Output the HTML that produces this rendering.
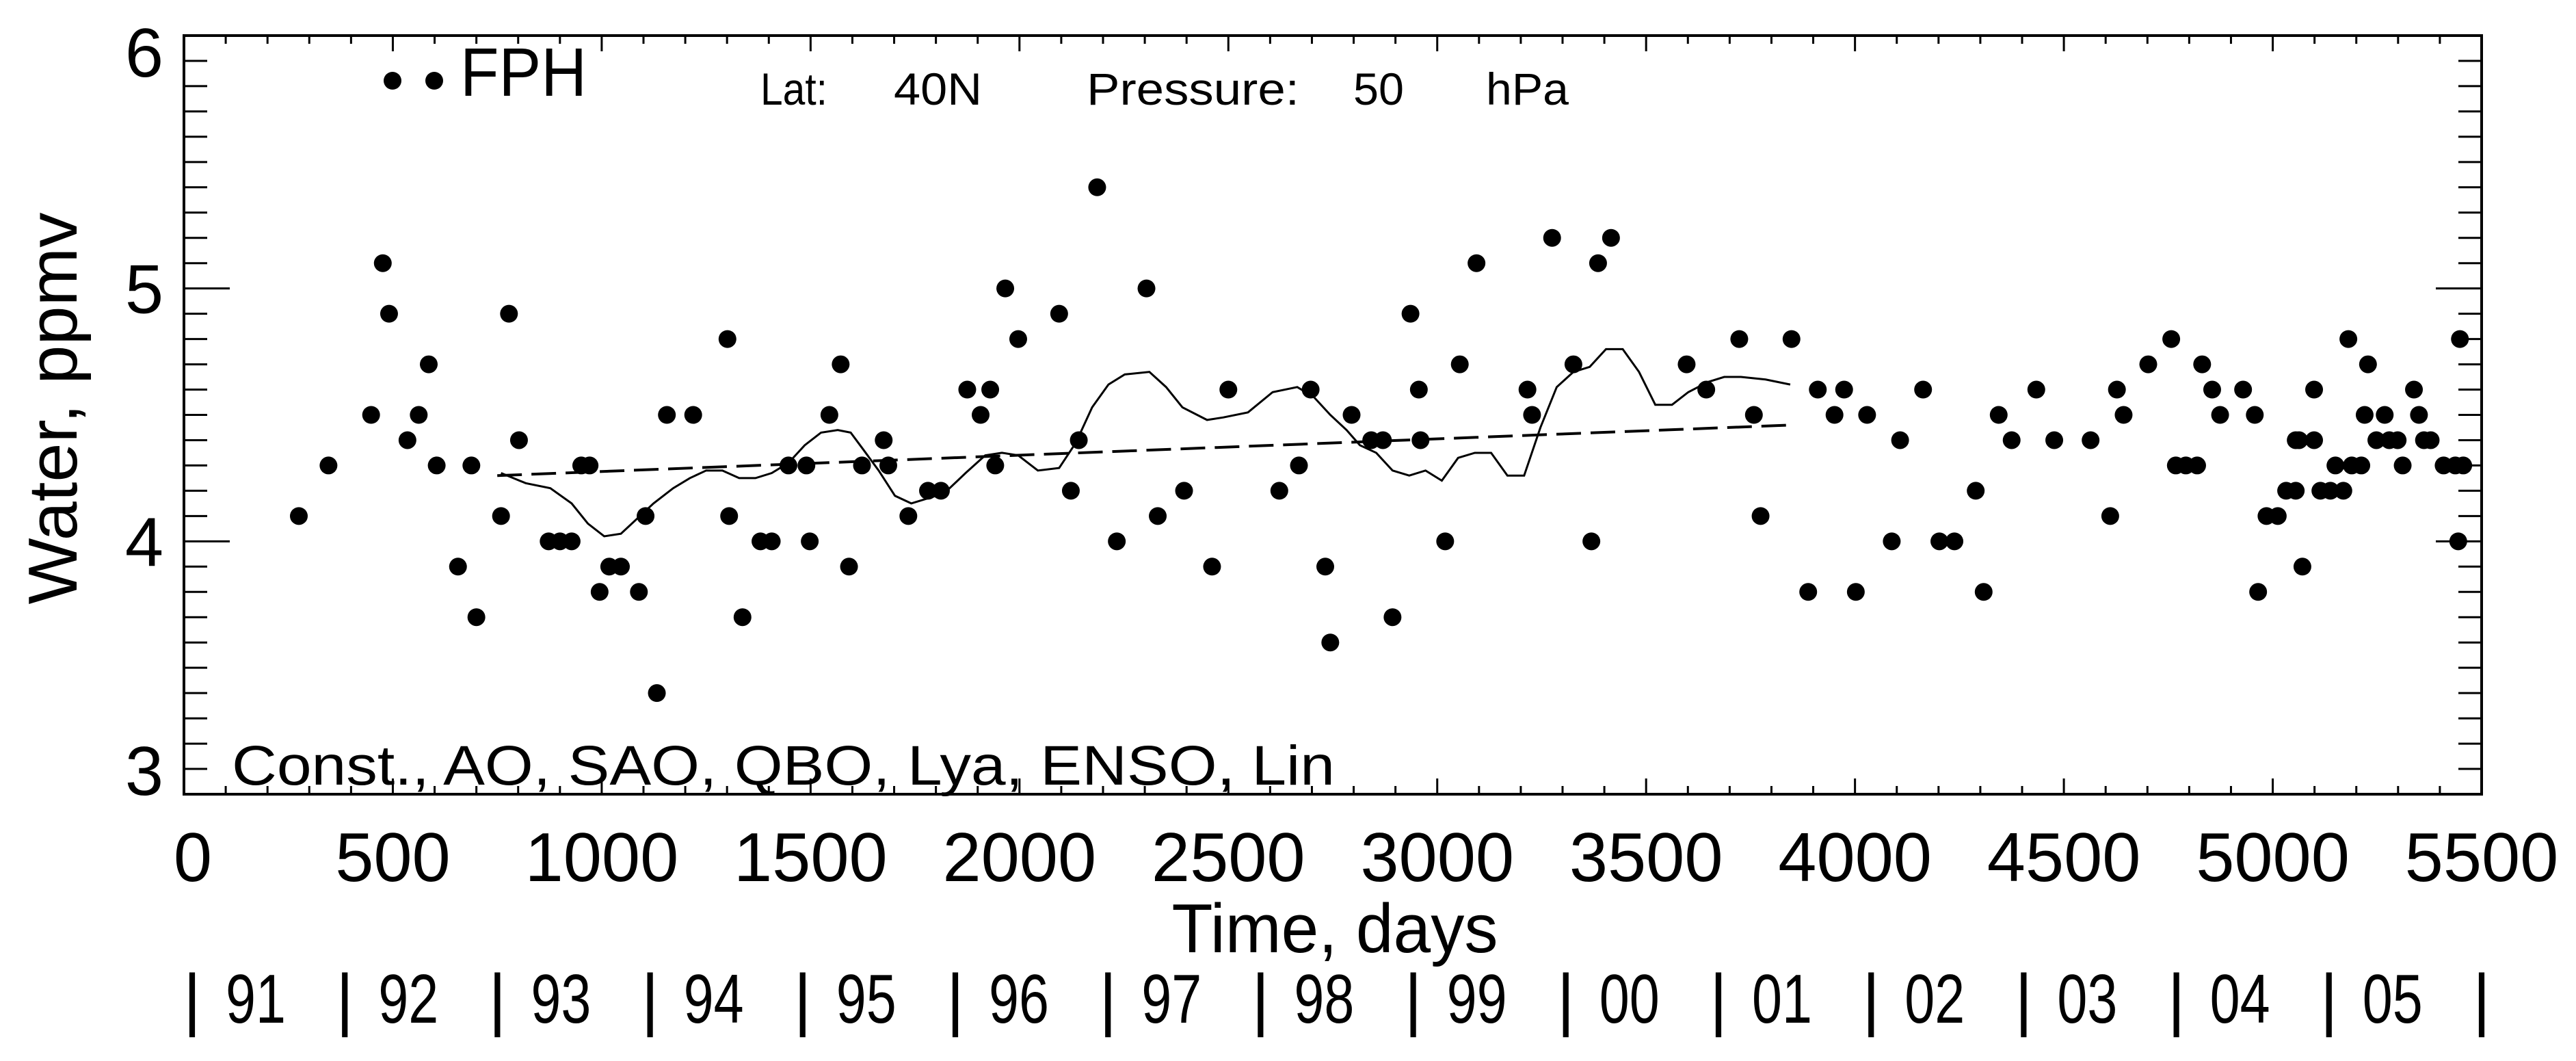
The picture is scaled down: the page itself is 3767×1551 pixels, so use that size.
<!DOCTYPE html>
<html><head><meta charset="utf-8"><style>
html,body{margin:0;padding:0;background:#fff;}
svg{display:block;font-family:"Liberation Sans",sans-serif;}
</style></head><body>
<svg id="chart" width="3767" height="1551" viewBox="0 0 3767 1551" xmlns="http://www.w3.org/2000/svg">
<rect width="3767" height="1551" fill="#fff"/>
<g id="axes"></g>
<g id="marks"></g>
<text x="673" y="140" font-size="100" textLength="185" lengthAdjust="spacingAndGlyphs">FPH</text>
<circle cx="574" cy="118" r="13"/>
<circle cx="635" cy="118" r="13"/>
<g font-size="66">
<text x="1112" y="153" textLength="98" lengthAdjust="spacingAndGlyphs">Lat:</text>
<text x="1307" y="153" textLength="129" lengthAdjust="spacingAndGlyphs">40N</text>
<text x="1589" y="153" textLength="311" lengthAdjust="spacingAndGlyphs">Pressure:</text>
<text x="1979" y="153" textLength="74" lengthAdjust="spacingAndGlyphs">50</text>
<text x="2173" y="153" textLength="121" lengthAdjust="spacingAndGlyphs">hPa</text>
</g>
<text x="339" y="1147" font-size="82" textLength="1613" lengthAdjust="spacingAndGlyphs">Const., AO, SAO, QBO, Lya, ENSO, Lin</text>
<text transform="translate(112,597) rotate(-90)" text-anchor="middle" font-size="101" textLength="573" lengthAdjust="spacingAndGlyphs">Water, ppmv</text>
<text x="1952" y="1392" text-anchor="middle" font-size="101" textLength="477" lengthAdjust="spacingAndGlyphs">Time, days</text>
<g id="years"></g>
</svg>
<script>
const xTickValues = [0,500,1000,1500,2000,2500,3000,3500,4000,4500,5000,5500];
const yTickValues = [6,5,4,3];
const yearLabels = ["91","92","93","94","95","96","97","98","99","00","01","02","03","04","05"];
const obsDays = [275,346,448,476,491,535,562,586,605,656,688,700,759,778,802,873,900,928,951,971,995,1018,1046,1089,1105,1132,1156,1219,1301,1305,1337,1380,1407,1447,1490,1498,1545,1572,1592,1623,1675,1686,1734,1781,1812,1875,1907,1930,1942,1966,1997,2095,2123,2142,2186,2233,2304,2331,2394,2461,2500,2622,2669,2697,2732,2744,2795,2842,2870,2893,2936,2956,2960,3019,3054,3094,3216,3227,3275,3326,3369,3385,3416,3597,3644,3723,3758,3774,3848,3888,3911,3951,3974,4002,4029,4088,4108,4163,4202,4238,4289,4308,4344,4375,4434,4477,4564,4611,4627,4643,4702,4757,4768,4792,4819,4831,4855,4874,4929,4957,4965,4985,5012,5032,5055,5055,5063,5071,5099,5099,5114,5138,5150,5169,5181,5189,5212,5220,5228,5248,5268,5279,5299,5311,5338,5350,5362,5378,5409,5437,5444,5448,5456];
const obsValues = [4.1,4.3,4.5,5.1,4.9,4.4,4.5,4.7,4.3,3.9,4.3,3.7,4.1,4.9,4.4,4.0,4.0,4.0,4.3,4.3,3.8,3.9,3.9,3.8,4.1,3.4,4.5,4.5,4.8,4.1,3.7,4.0,4.0,4.3,4.3,4.0,4.5,4.7,3.9,4.3,4.4,4.3,4.1,4.2,4.2,4.6,4.5,4.6,4.3,5.0,4.8,4.9,4.2,4.4,5.4,4.0,5.0,4.1,4.2,3.9,4.6,4.2,4.3,4.6,3.9,3.6,4.5,4.4,4.4,3.7,4.9,4.6,4.4,4.0,4.7,5.1,4.6,4.5,5.2,4.7,4.0,5.1,5.2,4.7,4.6,4.8,4.5,4.1,4.8,3.8,4.6,4.5,4.6,3.8,4.5,4.0,4.4,4.6,4.0,4.0,4.2,3.8,4.5,4.4,4.6,4.4,4.4,4.1,4.6,4.5,4.7,4.8,4.3,4.3,4.3,4.7,4.6,4.5,4.6,4.5,3.8,4.1,4.1,4.2,4.2,4.4,4.4,3.9,4.4,4.6,4.2,4.2,4.3,4.2,4.8,4.3,4.3,4.5,4.7,4.4,4.5,4.4,4.4,4.3,4.6,4.5,4.4,4.4,4.3,4.3,4.0,4.8,4.3];
const fitDays = [759,818,877,928,967,1006,1046,1085,1124,1171,1211,1250,1289,1329,1368,1407,1447,1486,1525,1565,1596,1623,1663,1702,1741,1781,1820,1871,1918,1958,1997,2044,2095,2135,2174,2213,2252,2311,2351,2390,2449,2488,2547,2606,2665,2705,2744,2783,2815,2854,2893,2933,2972,3011,3050,3090,3129,3168,3208,3247,3286,3326,3365,3404,3444,3483,3522,3562,3601,3648,3687,3727,3786,3845];
const fitValues = [4.27,4.23,4.21,4.15,4.07,4.02,4.03,4.09,4.15,4.21,4.25,4.28,4.28,4.25,4.25,4.27,4.31,4.38,4.43,4.44,4.43,4.37,4.28,4.18,4.15,4.17,4.19,4.27,4.34,4.35,4.34,4.28,4.29,4.39,4.53,4.62,4.66,4.67,4.61,4.53,4.48,4.49,4.51,4.59,4.61,4.57,4.50,4.44,4.38,4.35,4.28,4.26,4.28,4.24,4.33,4.35,4.35,4.26,4.26,4.45,4.61,4.67,4.69,4.76,4.76,4.67,4.54,4.54,4.59,4.63,4.65,4.65,4.64,4.62];
const trendDays = [750,3850];
const trendValues = [4.26,4.46];

const L=269,R=3629,T=52,B=1161,XMIN=0,XMAX=5500,YMIN=3,YMAX=6;
const X=d=>L+(d-XMIN)/(XMAX-XMIN)*(R-L);
const Y=v=>B-(v-YMIN)/(YMAX-YMIN)*(B-T);
const NS="http://www.w3.org/2000/svg";
function mk(tag,attrs,parent){const e=document.createElementNS(NS,tag);for(const k in attrs)e.setAttribute(k,attrs[k]);parent.appendChild(e);return e;}
const axes=document.getElementById('axes'), marks=document.getElementById('marks'), years=document.getElementById('years');

const frame=mk('rect',{x:L,y:T,width:R-L,height:B-T,fill:'none',stroke:'#000','stroke-width':4},axes);



let tp='';
for(let d=0;d<=5500;d+=100){const major=d%500===0;const len=major?23:12;const x=X(d);tp+=`M${x},${B}V${B-len}M${x},${T}V${T+len}`;}
for(let i=0;i<=30;i++){const v=3+i*0.1;const major=i%10===0;const len=major?67:34;const y=Y(v);tp+=`M${L},${y}H${L+len}M${R},${y}H${R-len}`;}
const ticks=mk('path',{d:tp,stroke:'#000','stroke-width':3,fill:'none'},axes);



xTickValues.forEach(v=>{
  const cx = v===0 ? X(v)+13 : X(v);
  const t=mk('text',{x:cx,y:1288,'text-anchor':'middle','font-size':101},axes);
  t.textContent=String(v);
  
  
});
const yBase={6:112,5:457,4:827,3:1162};
yTickValues.forEach(v=>{
  const yb = (v===6||v===3) ? yBase[v] : Y(v)+36;
  const t=mk('text',{x:239,y:yb,'text-anchor':'end','font-size':101},axes);
  t.textContent=String(v);
  
  
});

const barStart=281, barStep=223.2;
for(let i=0;i<=yearLabels.length;i++){
  const bx=barStart+i*barStep;
  const b=mk('text',{x:bx,y:1495,'text-anchor':'middle','font-size':101},years);
  b.textContent='|';
  
  
  if(i<yearLabels.length){
    const t=mk('text',{x:bx+49,y:1495,'font-size':101,textLength:88,lengthAdjust:'spacingAndGlyphs'},years);
    t.textContent=yearLabels[i];
    
    
  }
}

const trend=mk('path',{d:'M'+trendDays.map((d,i)=>X(d)+','+Y(trendValues[i])).join('L'),stroke:'#000','stroke-width':4,fill:'none','stroke-dasharray':'36 14'},marks);



const fit=mk('path',{d:'M'+fitDays.map((d,i)=>X(d)+','+Y(fitValues[i])).join('L'),stroke:'#000','stroke-width':3,fill:'none'},marks);



obsDays.forEach((d,i)=>{
  const c=mk('circle',{cx:X(d),cy:Y(obsValues[i]),r:13,fill:'#000'},marks);
  
  
});
</script>
</body></html>
